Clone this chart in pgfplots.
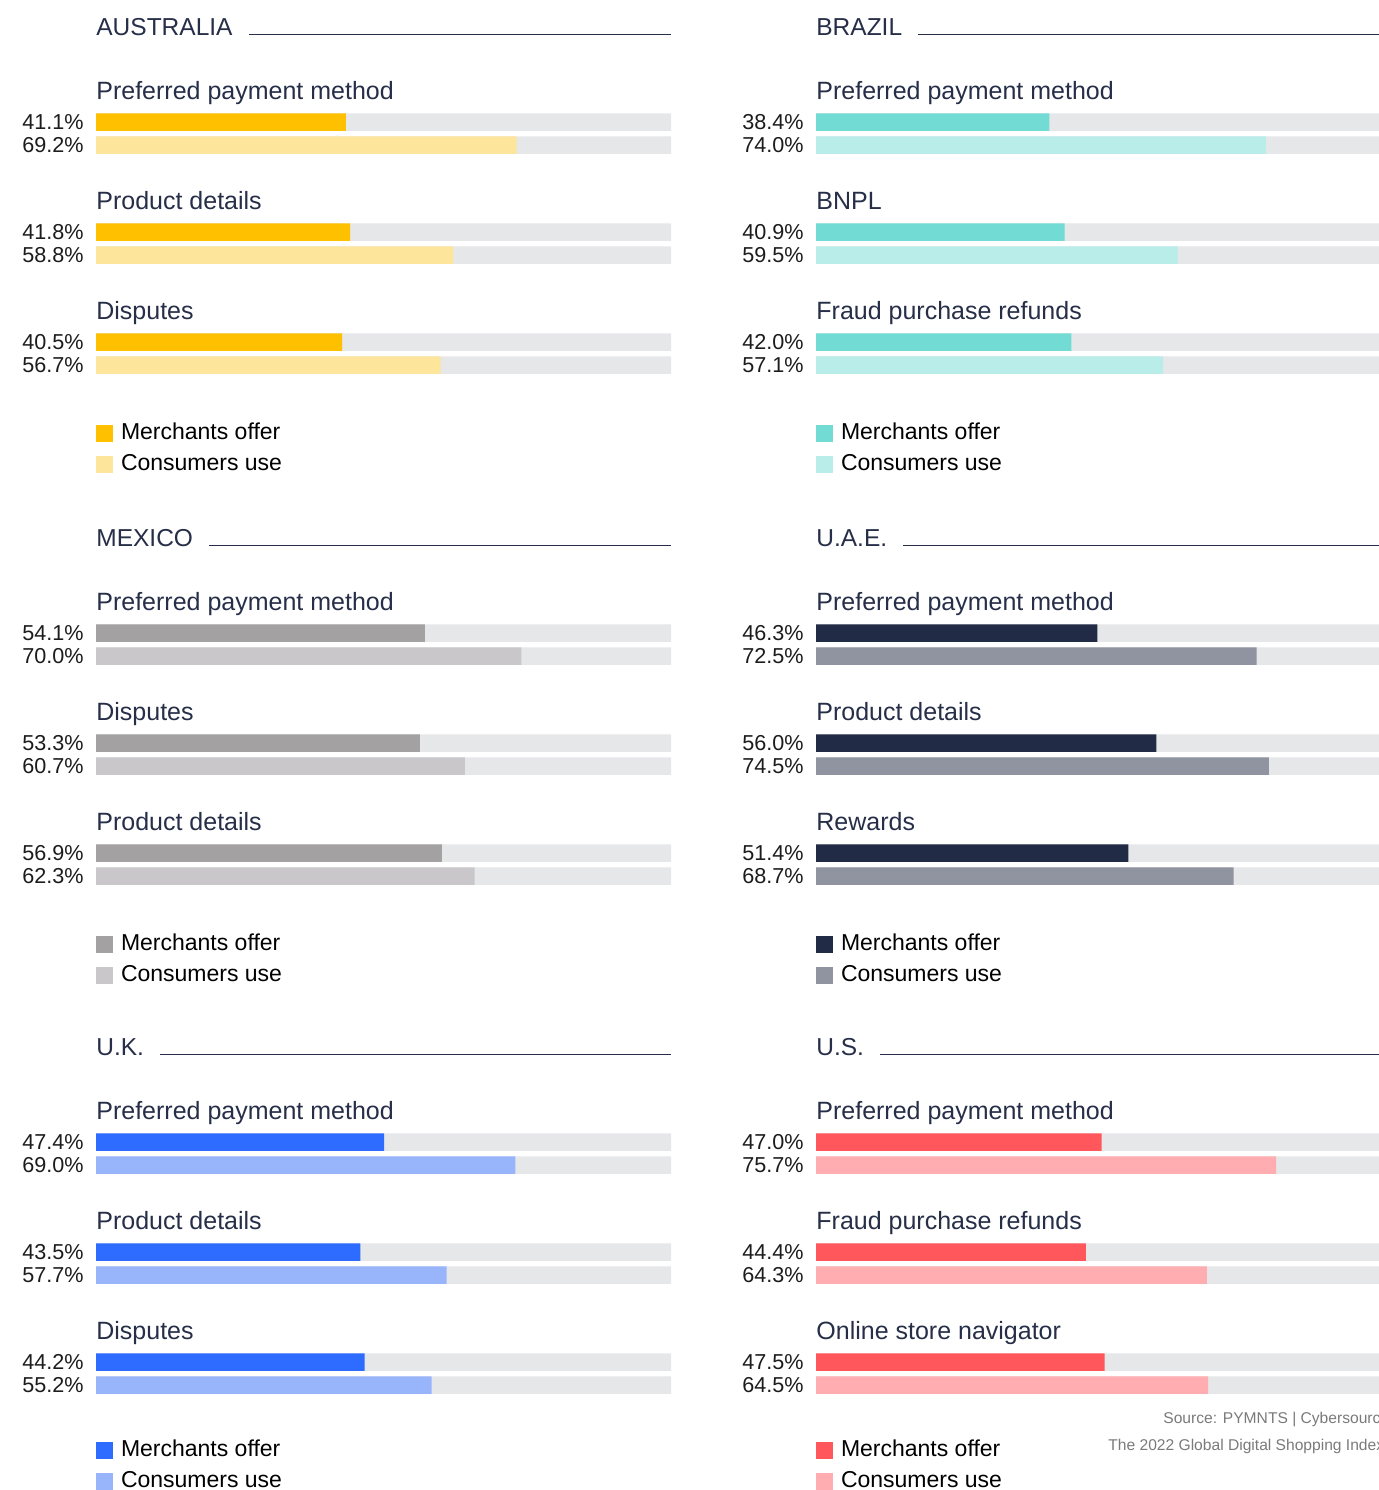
\documentclass[border=0pt]{standalone}
\usepackage{fontspec}
\setmainfont{Liberation Sans}
\usepackage{pgfplots}
\pgfplotsset{compat=1.18}
\definecolor{aus1}{HTML}{FFC000}\definecolor{aus2}{HTML}{FDE59B}
\definecolor{bra1}{HTML}{72DBD4}\definecolor{bra2}{HTML}{B9EDE9}
\definecolor{mex1}{HTML}{A3A1A2}\definecolor{mex2}{HTML}{C9C7C9}
\definecolor{uae1}{HTML}{222B45}\definecolor{uae2}{HTML}{9094A0}
\definecolor{uk1}{HTML}{2E6BFF}\definecolor{uk2}{HTML}{98B5FC}
\definecolor{us1}{HTML}{FF575B}\definecolor{us2}{HTML}{FFADB0}
\definecolor{bg}{HTML}{E6E7E9}
\definecolor{navy}{HTML}{262E48}
\definecolor{pct}{HTML}{1C1C1C}
\definecolor{src}{HTML}{7A7A7A}
\newcommand\titlefont{\fontsize{12.25}{14}\selectfont}
\newcommand\subfont{\fontsize{12.5}{14}\selectfont}
\newcommand\pctfont{\fontsize{10.8}{12}\selectfont}
\newcommand\legfont{\fontsize{11.5}{13}\selectfont}
\tikzset{
  ttl/.style={anchor=base west, inner sep=0pt, text depth=2pt, fill=white, font=\titlefont, text=navy},
  sub/.style={anchor=base west, inner sep=0pt, font=\subfont, text=navy},
}
\pgfplotsset{
  panel/.style={
    scale only axis, width=287.5pt, height=240pt, anchor=north west,
    xmin=0, xmax=94.6, ymin=-480, ymax=0, enlargelimits=false,
    axis line style={draw=none}, tick style={draw=none}, xtick=\empty,
    ytick={-365,-342,-255,-232,-145,-122},
    yticklabel style={font=\pctfont, text=pct, inner sep=0pt, anchor=east, xshift=-6pt},
    clip=false,
    every axis plot/.append style={xbar, bar width=8.75pt, bar shift=0pt, draw=none,
      legend image code/.code={\fill[##1] (0pt,-1pt) rectangle (8.5pt,7.5pt);}},
    legend style={at={(0,0.12708)}, anchor=north west, draw=none, fill=none,
      inner sep=0pt, outer sep=0pt, font=\legfont, row sep=2pt, column sep=2pt,
      cells={anchor=base west, inner sep=0pt}},
  },
  lowlegend/.style={legend style={at={(0,0.13333)}}},
}
\newcommand\paneltitle[1]{%
  \draw[navy, line width=0.65pt] (axis cs:0,-34.5) -- (axis cs:94.6,-34.5);
  \node[ttl] at (axis cs:0,-35) {#1\hspace*{8pt}};}
\begin{document}
\begin{tikzpicture}
\clip (0,0) rectangle (689.5pt,-745pt);
% ---------- AUSTRALIA
\begin{axis}[panel, at={(48pt,0pt)},
  yticklabels={56.7\%,40.5\%,58.8\%,41.8\%,69.2\%,41.1\%}]
\addplot[fill=bg, forget plot] coordinates {(94.6,-122)(94.6,-145)(94.6,-232)(94.6,-255)(94.6,-342)(94.6,-365)};
\addplot[fill=aus1] coordinates {(41.1,-122)(41.8,-232)(40.5,-342)};
\addplot[fill=aus2] coordinates {(69.2,-145)(58.8,-255)(56.7,-365)};
\legend{Merchants offer, Consumers use}
\paneltitle{AUSTRALIA}
\node[sub] at (axis cs:0,-99) {Preferred payment method};
\node[sub] at (axis cs:0,-209) {Product details};
\node[sub] at (axis cs:0,-319) {Disputes};
\end{axis}
% ---------- BRAZIL
\begin{axis}[panel, at={(408pt,0pt)},
  yticklabels={57.1\%,42.0\%,59.5\%,40.9\%,74.0\%,38.4\%}]
\addplot[fill=bg, forget plot] coordinates {(94.6,-122)(94.6,-145)(94.6,-232)(94.6,-255)(94.6,-342)(94.6,-365)};
\addplot[fill=bra1] coordinates {(38.4,-122)(40.9,-232)(42.0,-342)};
\addplot[fill=bra2] coordinates {(74.0,-145)(59.5,-255)(57.1,-365)};
\legend{Merchants offer, Consumers use}
\paneltitle{BRAZIL}
\node[sub] at (axis cs:0,-99) {Preferred payment method};
\node[sub] at (axis cs:0,-209) {BNPL};
\node[sub] at (axis cs:0,-319) {Fraud purchase refunds};
\end{axis}
% ---------- MEXICO
\begin{axis}[panel, at={(48pt,-255.5pt)},
  yticklabels={62.3\%,56.9\%,60.7\%,53.3\%,70.0\%,54.1\%}]
\addplot[fill=bg, forget plot] coordinates {(94.6,-122)(94.6,-145)(94.6,-232)(94.6,-255)(94.6,-342)(94.6,-365)};
\addplot[fill=mex1] coordinates {(54.1,-122)(53.3,-232)(56.9,-342)};
\addplot[fill=mex2] coordinates {(70.0,-145)(60.7,-255)(62.3,-365)};
\legend{Merchants offer, Consumers use}
\paneltitle{MEXICO}
\node[sub] at (axis cs:0,-99) {Preferred payment method};
\node[sub] at (axis cs:0,-209) {Disputes};
\node[sub] at (axis cs:0,-319) {Product details};
\end{axis}
% ---------- UAE
\begin{axis}[panel, at={(408pt,-255.5pt)},
  yticklabels={68.7\%,51.4\%,74.5\%,56.0\%,72.5\%,46.3\%}]
\addplot[fill=bg, forget plot] coordinates {(94.6,-122)(94.6,-145)(94.6,-232)(94.6,-255)(94.6,-342)(94.6,-365)};
\addplot[fill=uae1] coordinates {(46.3,-122)(56.0,-232)(51.4,-342)};
\addplot[fill=uae2] coordinates {(72.5,-145)(74.5,-255)(68.7,-365)};
\legend{Merchants offer, Consumers use}
\paneltitle{U.A.E.}
\node[sub] at (axis cs:0,-99) {Preferred payment method};
\node[sub] at (axis cs:0,-209) {Product details};
\node[sub] at (axis cs:0,-319) {Rewards};
\end{axis}
% ---------- UK
\begin{axis}[panel, lowlegend, at={(48pt,-510pt)},
  yticklabels={55.2\%,44.2\%,57.7\%,43.5\%,69.0\%,47.4\%}]
\addplot[fill=bg, forget plot] coordinates {(94.6,-122)(94.6,-145)(94.6,-232)(94.6,-255)(94.6,-342)(94.6,-365)};
\addplot[fill=uk1] coordinates {(47.4,-122)(43.5,-232)(44.2,-342)};
\addplot[fill=uk2] coordinates {(69.0,-145)(57.7,-255)(55.2,-365)};
\legend{Merchants offer, Consumers use}
\paneltitle{U.K.}
\node[sub] at (axis cs:0,-99) {Preferred payment method};
\node[sub] at (axis cs:0,-209) {Product details};
\node[sub] at (axis cs:0,-319) {Disputes};
\end{axis}
% ---------- US
\begin{axis}[panel, lowlegend, at={(408pt,-510pt)},
  yticklabels={64.5\%,47.5\%,64.3\%,44.4\%,75.7\%,47.0\%}]
\addplot[fill=bg, forget plot] coordinates {(94.6,-122)(94.6,-145)(94.6,-232)(94.6,-255)(94.6,-342)(94.6,-365)};
\addplot[fill=us1] coordinates {(47.0,-122)(44.4,-232)(47.5,-342)};
\addplot[fill=us2] coordinates {(75.7,-145)(64.3,-255)(64.5,-365)};
\legend{Merchants offer, Consumers use}
\paneltitle{U.S.}
\node[sub] at (axis cs:0,-99) {Preferred payment method};
\node[sub] at (axis cs:0,-209) {Fraud purchase refunds};
\node[sub] at (axis cs:0,-319) {Online store navigator};
\end{axis}
\node[anchor=base west, inner sep=0pt, font=\fontsize{7.8}{9}\selectfont, text=src] at (581.5pt,-711.5pt) {Source: PYMNTS | Cybersource};
\node[anchor=base west, inner sep=0pt, font=\fontsize{7.8}{9}\selectfont, text=src] at (554pt,-725pt) {The 2022 Global Digital Shopping Index};
\end{tikzpicture}
\end{document}
